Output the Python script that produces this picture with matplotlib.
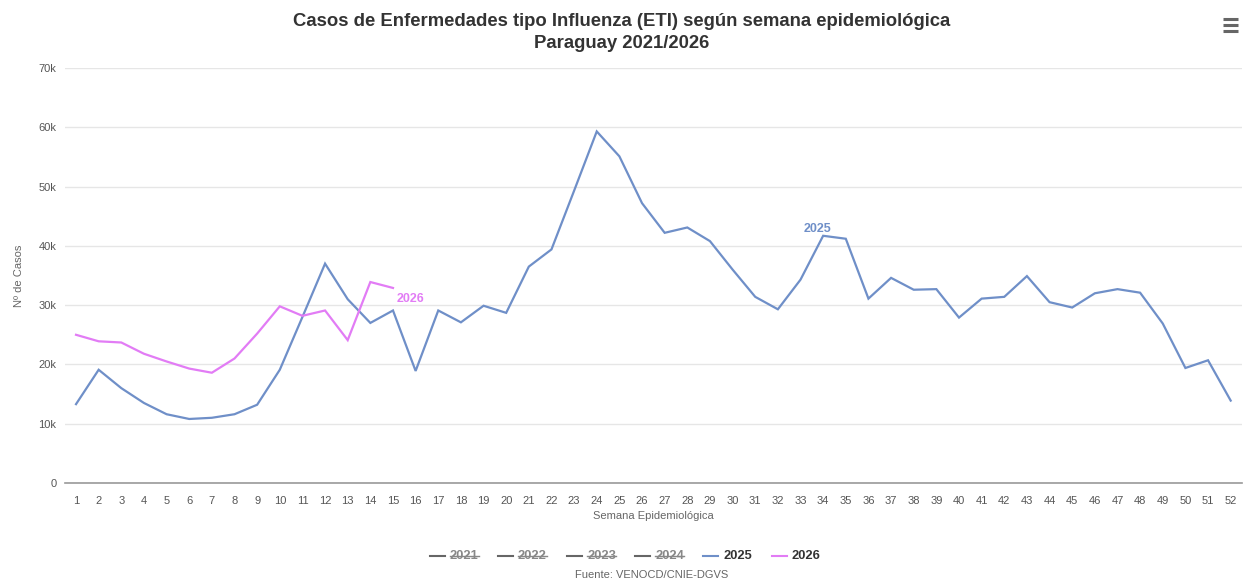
import matplotlib
matplotlib.use("Agg")
import matplotlib.pyplot as plt
from matplotlib.lines import Line2D
from matplotlib.ticker import FuncFormatter, MultipleLocator

plt.rcParams['font.family'] = ['Liberation Sans', 'DejaVu Sans']

weeks = list(range(1, 53))
cases_2025 = [13.3, 19.1, 16.0, 13.5, 11.6, 10.8, 11.0, 11.6, 13.2, 19.1,
              28.0, 37.0, 31.0, 27.0, 29.1, 18.9, 29.1, 27.1, 29.9, 28.7,
              36.5, 39.4, 49.3, 59.3, 55.1, 47.2, 42.2, 43.1, 40.8, 36.0,
              31.4, 29.3, 34.3, 41.7, 41.2, 31.1, 34.6, 32.6, 32.7, 27.9,
              31.1, 31.4, 34.9, 30.5, 29.6, 32.0, 32.7, 32.1, 26.9, 19.4,
              20.7, 13.9]
cases_2025 = [v * 1000 for v in cases_2025]
weeks_2026 = list(range(1, 16))
cases_2026 = [25.0, 23.9, 23.7, 21.8, 20.5, 19.3, 18.6, 21.0, 25.2, 29.8,
              28.2, 29.1, 24.1, 33.9, 32.9]
cases_2026 = [v * 1000 for v in cases_2026]
legend_years = ['2021', '2022', '2023', '2024', '2025', '2026']
hidden_years = ['2021', '2022', '2023', '2024']

c2025 = '#6f8fc8'
c2026 = '#e27cf5'
grey_txt = '#666666'

fig = plt.figure(figsize=(12.44, 5.83), dpi=100)
W, H = 1244, 583
ax = fig.add_axes([64.7 / W, 100 / H, (1242 - 64.7) / W, 415 / H])

ax.plot(weeks, cases_2025, color=c2025, lw=1.6, solid_joinstyle='miter', zorder=3)
ax.plot(weeks_2026, cases_2026, color=c2026, lw=1.6, solid_joinstyle='miter', zorder=4)

ax.set_xlim(0.5, 52.5)
ax.set_ylim(0, 70000)
ax.yaxis.set_major_locator(MultipleLocator(10000))
ax.yaxis.set_major_formatter(FuncFormatter(lambda v, p: '0' if v == 0 else f'{int(v/1000)}k'))
ax.set_xticks(weeks)
ax.set_xticklabels([str(w) for w in weeks])
ax.grid(axis='y', color='#e6e6e6', lw=1)
ax.set_axisbelow(True)
for s in ['top', 'right', 'left']:
    ax.spines[s].set_visible(False)
ax.spines['bottom'].set_color('#999999')
ax.spines['bottom'].set_linewidth(1.2)
ax.tick_params(axis='both', length=0, labelsize=8, labelcolor='#555555')
ax.tick_params(axis='x', pad=9)
ax.tick_params(axis='y', pad=6)
ax.set_xlabel('Semana Epidemiológica', fontsize=8, color=grey_txt, labelpad=4)
ax.set_ylabel('Nº de Casos', fontsize=8, color=grey_txt, labelpad=10)

# series labels
ax.annotate('2026', (weeks_2026[-1], cases_2026[-1]), xytext=(12.3, -7.8), textcoords='offset points',
            ha='center', va='center', color=c2026, fontsize=9, fontweight='bold')
ax.annotate('2025', (34, cases_2025[33]), xytext=(-4, 4.8), textcoords='offset points',
            ha='center', va='center', color=c2025, fontsize=9, fontweight='bold')

# title
fig.text(622 / W, 1 - 21.5 / H, 'Casos de Enfermedades tipo Influenza (ETI) según semana epidemiológica',
         ha='center', va='center', fontsize=13.3, fontweight='bold', color='#333333')
fig.text(622 / W, 1 - 43 / H, 'Paraguay 2021/2026',
         ha='center', va='center', fontsize=13.3, fontweight='bold', color='#333333')

# hamburger menu
for yy in (19, 25, 31):
    fig.add_artist(Line2D([1223 / W, 1238 / W], [1 - yy / H, 1 - yy / H], color='#666666', lw=2.2,
                          solid_capstyle='butt'))

# legend
sym_x = [430, 498, 567, 635, 703, 772]
ly = 1 - 556 / H
texts = []
for x0, yr in zip(sym_x, legend_years):
    hidden = yr in hidden_years
    col = '#666666' if hidden else (c2025 if yr == '2025' else c2026)
    fig.add_artist(Line2D([x0 / W, (x0 + 15) / W], [ly, ly], color=col, lw=1.5))
    t = fig.text((x0 + 20) / W, ly, yr, ha='left', va='center', fontsize=9.3, fontweight='bold',
                 color='#888888' if hidden else '#333333')
    texts.append((t, hidden))

fig.text(652 / W, 1 - 575 / H, 'Fuente: VENOCD/CNIE-DGVS', ha='center', va='center',
         fontsize=8, color=grey_txt)

fig.canvas.draw()
r = fig.canvas.get_renderer()
for t, hidden in texts:
    if hidden:
        bb = t.get_window_extent(r)
        yy = (bb.y0 + bb.y1) / 2 / H
        fig.add_artist(Line2D([bb.x0 / W, bb.x1 / W], [yy, yy], color='#888888', lw=1))

fig.savefig('out.png', dpi=100, facecolor='white')
